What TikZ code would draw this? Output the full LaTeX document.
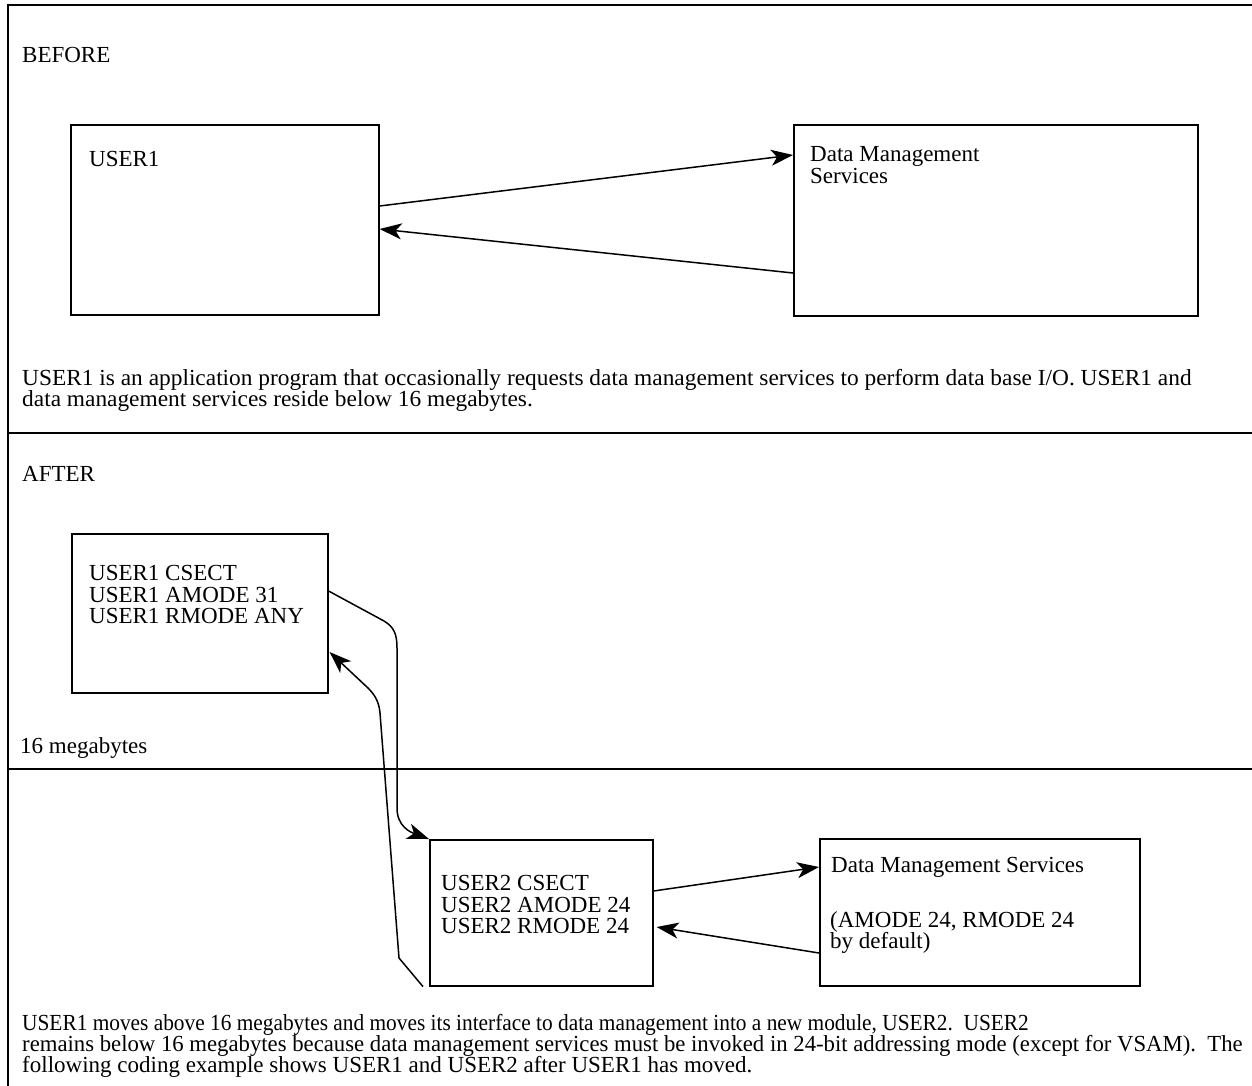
\documentclass[tikz,border=0pt]{standalone}
\usepackage{fontspec}
\setmainfont{Liberation Serif}
\usetikzlibrary{arrows.meta,calc}
\begin{document}
\begin{tikzpicture}[x=1bp,y=-1bp,
  frame/.style={line width=1.5bp},
  box/.style={draw,line width=1.6bp,anchor=north west,inner sep=0pt},
  txt/.style={anchor=base west,inner sep=0pt,font=\fontsize{23bp}{21.5bp}\selectfont},
  flow/.style={line width=1.5bp,-{Stealth[length=22bp,width=16bp,inset=6bp]}}]
\useasboundingbox (0,0) rectangle (1252,1086);

% outer frame and section rules
\draw[frame] (1252,5) -- (8,5) -- (8,1086);
\draw[frame] (8,433) -- (1252,433);
\draw[frame] (8,769) -- (1252,769);

% ---------- BEFORE ----------
\node[txt] (before) at (22,62) {BEFORE};
\node[box,minimum width=308bp,minimum height=190bp] (u1b) at (70,124) {};
\node[txt] (u1btxt) at (89,166) {USER1};
\node[box,minimum width=404bp,minimum height=191bp] (dmb) at (793,124) {};
\node[txt] (dmbtxta) at (810,161) {Data Management};
\node[txt] (dmbtxtb) at (810,183) {Services};

\draw[flow] ($(u1b.north east)+(0,82)$) -- ($(dmb.north west)+(0,31)$);
\draw[flow] ($(dmb.north west)+(0,149)$) -- ($(u1b.north east)+(0,105)$);

\node[txt] (para1a) at (22,385) {\addfontfeature{FakeStretch=1.016}USER1 is an application program that occasionally requests data management services to perform data base I/O. USER1 and};
\node[txt] (para1b) at (22,406) {\addfontfeature{FakeStretch=1.016}data management services reside below 16 megabytes.};

% ---------- AFTER ----------
\node[txt] (after) at (22,481) {AFTER};
\node[box,minimum width=256bp,minimum height=159bp] (u1a) at (71,533) {};
\node[txt] (u1aa) at (89,580) {USER1 CSECT};
\node[txt] (u1ab) at (89,602) {USER1 AMODE 31};
\node[txt] (u1ac) at (89,623) {USER1 RMODE ANY};
\node[txt] (mega) at (20,753) {16 megabytes};

\node[box,minimum width=223bp,minimum height=146bp] (u2) at (429,839) {};
\node[txt] (u2a) at (441,890) {USER2 CSECT};
\node[txt] (u2b) at (441,912) {USER2 AMODE 24};
\node[txt] (u2c) at (441,933) {USER2 RMODE 24};

\node[box,minimum width=320bp,minimum height=147bp] (dma) at (819,838) {};
\node[txt] (dmaa) at (831,872) {Data Management Services};
\node[txt] (dmab) at (830,927) {(AMODE 24, RMODE 24};
\node[txt] (dmac) at (830,948) {by default)};

% USER1 calls USER2 across the 16 megabyte line
\draw[flow] ($(u1a.north east)+(0,58)$) -- (384,621)
  .. controls (394,627) and (397,634) .. (397,648) -- (397,808)
  .. controls (397,826) and (410,832) .. (u2.north west);
% USER2 returns to USER1
\draw[flow] ($(u2.south west)+(-6,0)$) -- (399,958) -- (380,713)
  .. controls (379,701) and (374,694) .. (368,688) -- ($(u1a.north east)+(1,119)$);

\draw[flow] ($(u2.north east)+(0,52)$) -- ($(dma.north west)+(0,29)$);
\draw[flow] ($(dma.north west)+(0,115)$) -- ($(u2.north east)+(3,88)$);

\node[txt] (para2a) at (22,1030) {\addfontfeature{FakeStretch=0.928}USER1 moves above 16 megabytes and moves its interface to data management into a new module, USER2.\ \ USER2};
\node[txt] (para2b) at (22,1051) {\addfontfeature{FakeStretch=0.988}remains below 16 megabytes because data management services must be invoked in 24-bit addressing mode (except for VSAM).\ \ The};
\node[txt] (para2c) at (22,1072) {following coding example shows USER1 and USER2 after USER1 has moved.};
\end{tikzpicture}
\end{document}
